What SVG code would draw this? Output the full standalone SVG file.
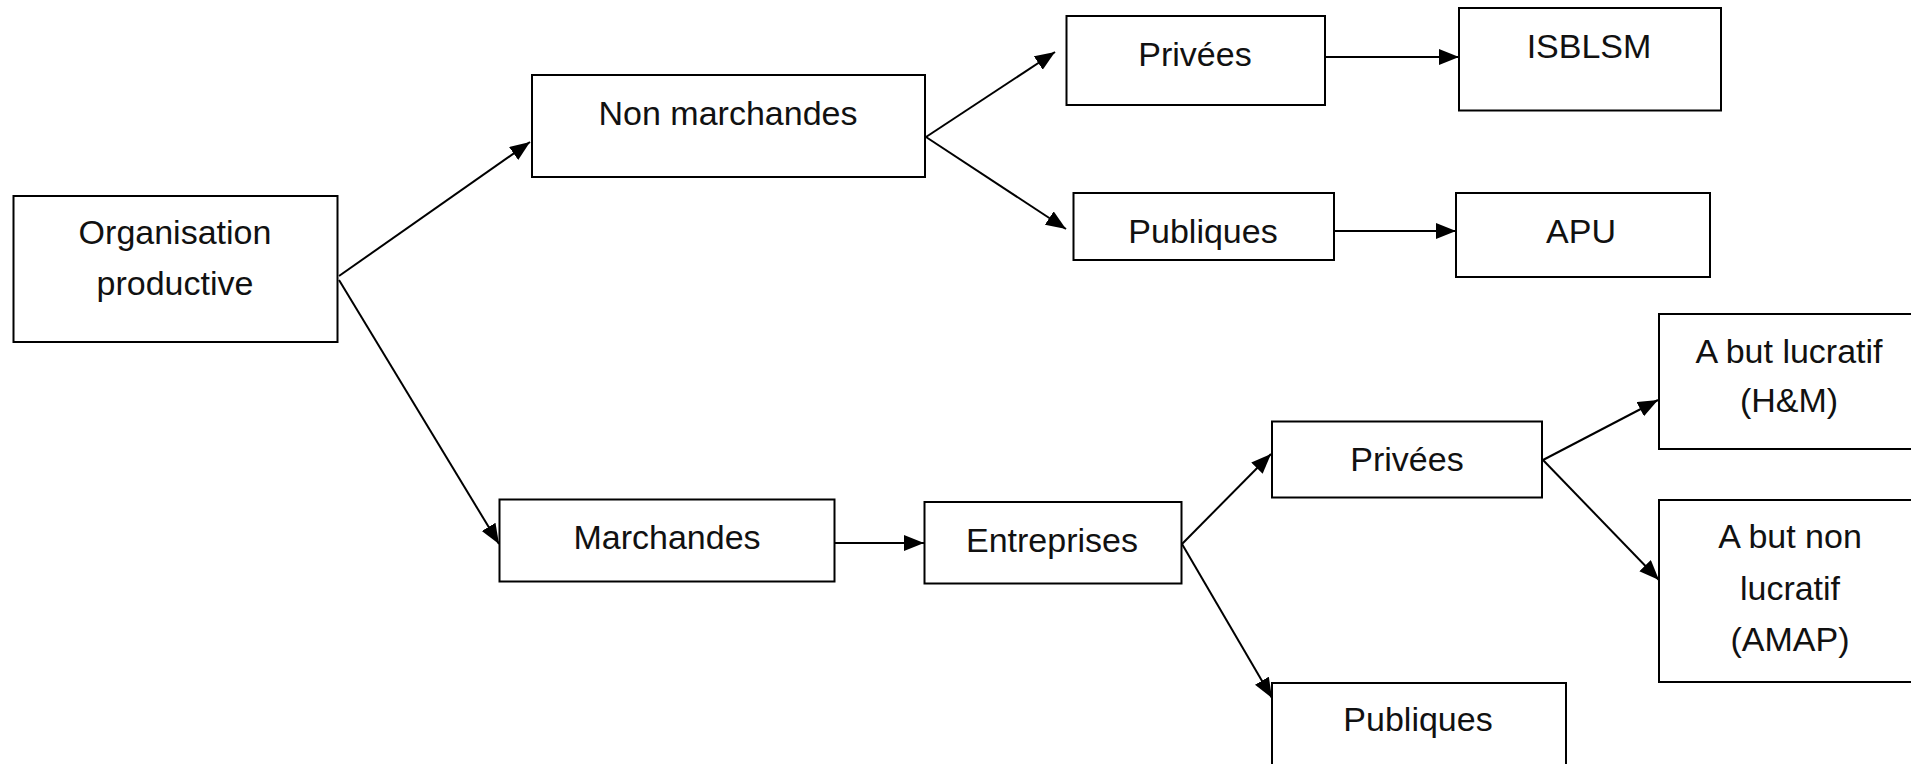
<svg xmlns="http://www.w3.org/2000/svg" width="1911" height="764" viewBox="0 0 1911 764">
<style>
.box{fill:#fff;stroke:#000;stroke-width:2}
.t{font-family:"Liberation Sans",Arial,sans-serif;font-size:34px;fill:#111;text-anchor:middle}
.c{stroke:#000;stroke-width:2;fill:none;marker-end:url(#ah)}
</style>
<defs>
<marker id="ah" markerUnits="userSpaceOnUse" markerWidth="22" markerHeight="18" refX="20" refY="8" orient="auto">
<path d="M0,0 L20,8 L0,16 Z" fill="#000"/>
</marker>
</defs>
<rect width="1911" height="764" fill="#fff"/>
<g id="connectors">
<line class="c" x1="339" y1="276" x2="530" y2="142"/>
<line class="c" x1="339" y1="280" x2="499" y2="544"/>
<line class="c" x1="926" y1="137" x2="1055" y2="52"/>
<line class="c" x1="926" y1="137" x2="1066" y2="229"/>
<line class="c" x1="1325" y1="57" x2="1459" y2="57"/>
<line class="c" x1="1334" y1="231" x2="1456" y2="231"/>
<line class="c" x1="834" y1="543" x2="924" y2="543"/>
<line class="c" x1="1182" y1="544" x2="1271" y2="454"/>
<line class="c" x1="1182" y1="544" x2="1272" y2="698"/>
<line class="c" x1="1543" y1="460" x2="1658" y2="400"/>
<line class="c" x1="1543" y1="460" x2="1659" y2="580"/>
</g>
<g id="organisation">
<rect class="box" x="13.5" y="196" width="324" height="146"/>
<text class="t" x="175" y="244">Organisation</text>
<text class="t" x="175" y="295">productive</text>
</g>
<g id="non-marchandes">
<rect class="box" x="532" y="75" width="393" height="102"/>
<text class="t" x="728" y="125">Non marchandes</text>
</g>
<g id="privees-nm">
<rect class="box" x="1066.5" y="16" width="258.5" height="89"/>
<text class="t" x="1195" y="66">Privées</text>
</g>
<g id="isblsm">
<rect class="box" x="1459" y="8" width="262" height="102.5"/>
<text class="t" x="1589" y="58">ISBLSM</text>
</g>
<g id="publiques-nm">
<rect class="box" x="1073.5" y="193" width="260.5" height="67"/>
<text class="t" x="1203" y="243">Publiques</text>
</g>
<g id="apu">
<rect class="box" x="1456" y="193" width="254" height="84"/>
<text class="t" x="1581" y="243">APU</text>
</g>
<g id="marchandes">
<rect class="box" x="499.5" y="499.5" width="335" height="82"/>
<text class="t" x="667" y="549">Marchandes</text>
</g>
<g id="entreprises">
<rect class="box" x="924.5" y="502" width="257" height="81.5"/>
<text class="t" x="1052" y="552">Entreprises</text>
</g>
<g id="privees-m">
<rect class="box" x="1272" y="421.5" width="270" height="76"/>
<text class="t" x="1407" y="471">Privées</text>
</g>
<g id="publiques-m">
<rect class="box" x="1272" y="683" width="294" height="100"/>
<text class="t" x="1418" y="731">Publiques</text>
</g>
<g id="but-lucratif">
<rect class="box" x="1659" y="314" width="270" height="135"/>
<text class="t" x="1789" y="363">A but lucratif</text>
<text class="t" x="1789" y="412">(H&amp;M)</text>
</g>
<g id="but-non-lucratif">
<rect class="box" x="1659" y="500" width="270" height="182"/>
<text class="t" x="1790" y="548">A but non</text>
<text class="t" x="1790" y="600">lucratif</text>
<text class="t" x="1790" y="651">(AMAP)</text>
</g>
</svg>
